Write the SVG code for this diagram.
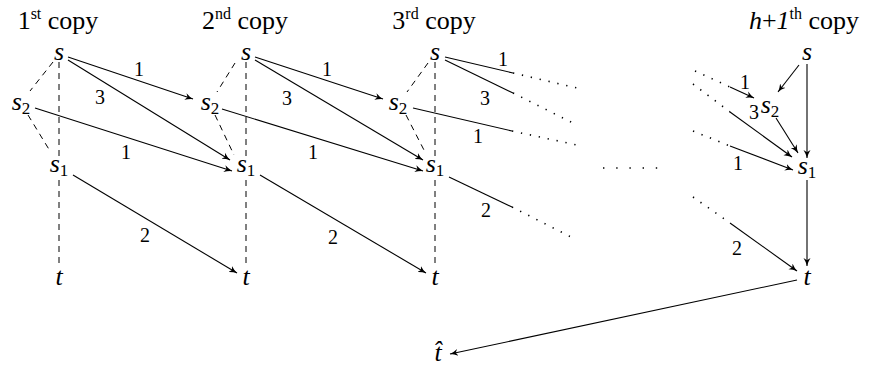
<svg xmlns="http://www.w3.org/2000/svg" width="872" height="367" viewBox="0 0 872 367" font-family="'Liberation Serif','Times New Roman',Tinos,'DejaVu Serif',Times,serif">
<style>
text{font-family:'Liberation Serif','Times New Roman',Tinos,'DejaVu Serif',Times,serif;fill:#000}
.h{font-size:26px}
.sup{font-size:16px}
.n{font-size:26px;font-style:italic}
.sub{font-size:17px;font-style:normal}
.l{font-size:20px}
.e{stroke:#000;stroke-width:1.1;fill:none}
.a{marker-end:url(#ah)}
.d{stroke:#000;stroke-width:1;fill:none;stroke-dasharray:6 5}
.o{stroke:#000;stroke-width:1.6;fill:none;stroke-dasharray:1.3 7.8}
</style>
<defs>
<marker id="ah" markerWidth="10" markerHeight="9" refX="8" refY="4.5" orient="auto" markerUnits="userSpaceOnUse">
<path d="M0,1 Q4,3.5 8,4.5 Q4,5.5 0,8 L2.2,4.5 Z" fill="#000"/>
</marker>
</defs>

<g id="headings">
<text class="h" x="58" y="29" text-anchor="middle">1<tspan class="sup" dy="-10">st</tspan><tspan dy="10"> copy</tspan></text>
<text class="h" x="245" y="29" text-anchor="middle">2<tspan class="sup" dy="-10">nd</tspan><tspan dy="10"> copy</tspan></text>
<text class="h" x="434" y="29" text-anchor="middle">3<tspan class="sup" dy="-10">rd</tspan><tspan dy="10"> copy</tspan></text>
<text class="h" x="804" y="29" text-anchor="middle"><tspan font-style="italic">h</tspan>+<tspan font-style="italic">1</tspan><tspan class="sup" dy="-10">th</tspan><tspan dy="10"> copy</tspan></text>
</g>

<g id="copy1">
<text id="c1-s" class="n" x="59" y="60" text-anchor="middle">s</text>
<text id="c1-s2" class="n" x="21" y="110" text-anchor="middle">s<tspan class="sub" dy="4">2</tspan></text>
<text id="c1-s1" class="n" x="59" y="172" text-anchor="middle">s<tspan class="sub" dy="4">1</tspan></text>
<text id="c1-t" class="n" x="59" y="285" text-anchor="middle">t</text>
</g>
<g id="copy2">
<text id="c2-s" class="n" x="246" y="60" text-anchor="middle">s</text>
<text id="c2-s2" class="n" x="210" y="110" text-anchor="middle">s<tspan class="sub" dy="4">2</tspan></text>
<text id="c2-s1" class="n" x="246" y="172" text-anchor="middle">s<tspan class="sub" dy="4">1</tspan></text>
<text id="c2-t" class="n" x="246" y="285" text-anchor="middle">t</text>
</g>
<g id="copy3">
<text id="c3-s" class="n" x="435" y="60" text-anchor="middle">s</text>
<text id="c3-s2" class="n" x="398" y="110" text-anchor="middle">s<tspan class="sub" dy="4">2</tspan></text>
<text id="c3-s1" class="n" x="435" y="172" text-anchor="middle">s<tspan class="sub" dy="4">1</tspan></text>
<text id="c3-t" class="n" x="435" y="285" text-anchor="middle">t</text>
</g>
<g id="copyh1">
<text id="c4-s" class="n" x="807" y="60" text-anchor="middle">s</text>
<text id="c4-s2" class="n" x="770" y="113" text-anchor="middle">s<tspan class="sub" dy="4">2</tspan></text>
<text id="c4-s1" class="n" x="807" y="174" text-anchor="middle">s<tspan class="sub" dy="4">1</tspan></text>
<text id="c4-t" class="n" x="807" y="285" text-anchor="middle">t</text>
</g>
<g id="that">
<text class="n" x="438" y="361" text-anchor="middle">t&#x302;</text>
</g>

<g id="connectors">
<path class="d" d="M53,62 L30,91 M28,115 L50,151 M59,62 L59,157 M59,180 L59,268"/>
<path class="d" d="M235,63 L217,92 M215,115 L234,155 M246,62 L246,157 M246,180 L246,268"/>
<path class="d" d="M428,63 L407,92 M406,115 L425,152 M435,62 L435,157 M435,180 L435,268"/>
<path class="e a" d="M68,57 L193,99"/>
<path class="e a" d="M68,60 L230,160"/>
<path class="e a" d="M35,108 L232,171"/>
<path class="e a" d="M73,175 L237,273"/>
<path class="e a" d="M255,57 L383,99"/>
<path class="e a" d="M255,60 L423,160"/>
<path class="e a" d="M222,109 L423,171"/>
<path class="e a" d="M260,175 L426,273"/>
<path class="e" d="M445,57 L513,73"/><path class="o" d="M513,73 L577,88"/>
<path class="e" d="M445,60 L513,93"/><path class="o" d="M513,93 L573,123"/>
<path class="e" d="M413,108 L512,131"/><path class="o" d="M512,131 L577,145"/>
<path class="e" d="M449,177 L512,207"/><path class="o" d="M512,207 L573,238"/>
<path class="o" d="M603,168 L658,168" style="stroke-dasharray:1.4 11.8"/>
<path class="o" d="M695,71 L730,87"/><path class="e a" d="M730,87 L754,98"/>
<path class="o" d="M693,84 L730,112"/><path class="e a" d="M730,112 L792,157"/>
<path class="o" d="M693,131 L730,146"/><path class="e a" d="M730,146 L793,170"/>
<path class="o" d="M693,197 L730,223"/><path class="e a" d="M730,223 L797,271"/>
<path class="e a" d="M799,65 L778,92"/>
<path class="e a" d="M807,64 L807,158"/>
<path class="e a" d="M776,118 L798,153"/>
<path class="e a" d="M807,180 L807,266"/>
<path class="e a" d="M797,280 L450,354"/>
</g>

<g id="edge-labels">
<text class="l" x="139" y="76" text-anchor="middle">1</text>
<text class="l" x="100" y="104" text-anchor="middle">3</text>
<text class="l" x="126" y="159" text-anchor="middle">1</text>
<text class="l" x="145" y="242" text-anchor="middle">2</text>
<text class="l" x="327" y="76" text-anchor="middle">1</text>
<text class="l" x="287" y="105" text-anchor="middle">3</text>
<text class="l" x="313" y="159" text-anchor="middle">1</text>
<text class="l" x="333" y="244" text-anchor="middle">2</text>
<text class="l" x="503" y="66" text-anchor="middle">1</text>
<text class="l" x="485" y="105" text-anchor="middle">3</text>
<text class="l" x="478" y="143" text-anchor="middle">1</text>
<text class="l" x="486" y="217" text-anchor="middle">2</text>
<text class="l" x="745" y="89" text-anchor="middle">1</text>
<text class="l" x="754" y="119" text-anchor="middle">3</text>
<text class="l" x="738" y="170" text-anchor="middle">1</text>
<text class="l" x="737" y="255" text-anchor="middle">2</text>
</g>
</svg>
